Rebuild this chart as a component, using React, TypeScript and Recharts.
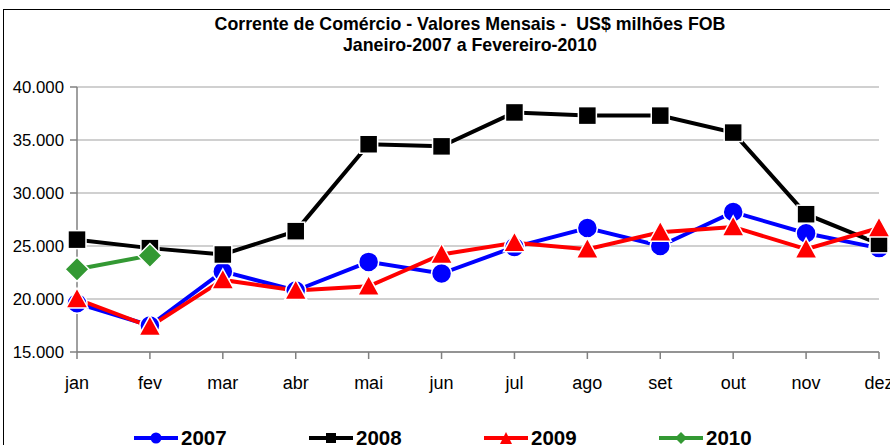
import React from 'react'
import { CartesianGrid, Line, LineChart, XAxis, YAxis } from 'recharts'

const months = ['jan', 'fev', 'mar', 'abr', 'mai', 'jun', 'jul', 'ago', 'set', 'out', 'nov', 'dez']
const y2007 = [19600, 17500, 22600, 20800, 23500, 22400, 24900, 26700, 25000, 28200, 26200, 24800]
const y2008 = [25600, 24800, 24200, 26400, 34600, 34400, 37600, 37300, 37300, 35700, 28000, 25200]
const y2009 = [20000, 17400, 21800, 20800, 21200, 24200, 25300, 24700, 26300, 26800, 24700, 26700]
const y2010 = [22800, 24100]
const yTicks = [15000, 20000, 25000, 30000, 35000, 40000]

const data = months.map((m, i) => ({
  month: m,
  s2007: y2007[i],
  s2008: y2008[i],
  s2009: y2009[i],
  s2010: i < y2010.length ? y2010[i] : null,
}))

const font = '"Liberation Sans", Arial, sans-serif'

const Circle = (props: any) => {
  const { cx, cy, index } = props
  if (cx == null || cy == null) return <g key={index} />
  return <circle key={index} cx={cx} cy={cy} r={10} fill="#0000ff" stroke="#fff" strokeWidth={1.5} />
}

const Square = (props: any) => {
  const { cx, cy, index } = props
  if (cx == null || cy == null) return <g key={index} />
  return <rect key={index} x={cx - 9} y={cy - 9} width={18} height={18} fill="#000" stroke="#fff" strokeWidth={1.5} />
}

const Triangle = (props: any) => {
  const { cx, cy, index } = props
  if (cx == null || cy == null) return <g key={index} />
  return (
    <polygon
      key={index}
      points={`${cx},${cy - 11} ${cx + 11},${cy + 9} ${cx - 11},${cy + 9}`}
      fill="#ff0000"
      stroke="#fff"
      strokeWidth={1.5}
    />
  )
}

const Diamond = (props: any) => {
  const { cx, cy, index } = props
  if (cx == null || cy == null || props.value == null) return <g key={index} />
  return (
    <polygon
      key={index}
      points={`${cx},${cy - 12} ${cx + 12},${cy} ${cx},${cy + 12} ${cx - 12},${cy}`}
      fill="#339933"
      stroke="#fff"
      strokeWidth={1.5}
    />
  )
}

const series = [
  { key: 's2007', name: '2007', color: '#0000ff', dot: Circle },
  { key: 's2008', name: '2008', color: '#000000', dot: Square },
  { key: 's2009', name: '2009', color: '#ff0000', dot: Triangle },
  { key: 's2010', name: '2010', color: '#339933', dot: Diamond },
]

const legendIcon = (name: string, color: string) => {
  let shape
  if (name === '2007') shape = <circle cx={22} cy={8} r={5.5} fill={color} />
  else if (name === '2008') shape = <rect x={17} y={3} width={10} height={10} fill={color} />
  else if (name === '2009') shape = <polygon points="22,2 28,14 16,14" fill={color} />
  else shape = <polygon points="22,2 28,8 22,14 16,8" fill={color} />
  return (
    <svg width={44} height={16} style={{ display: 'block' }}>
      <line x1={0} y1={8} x2={44} y2={8} stroke={color} strokeWidth={4} />
      {shape}
    </svg>
  )
}

export default function App() {
  return (
    <div
      style={{
        position: 'absolute',
        left: 0,
        top: 0,
        width: 890,
        height: 445,
        overflow: 'hidden',
        background: '#fff',
        fontFamily: font,
      }}
    >
      <div
        style={{
          position: 'absolute',
          left: 3,
          top: 9,
          width: 900,
          height: 460,
          borderLeft: '1.5px solid #000',
          borderTop: '1.5px solid #000',
        }}
      />
      <div
        style={{
          position: 'absolute',
          left: 0,
          top: 14,
          width: 940,
          textAlign: 'center',
          fontWeight: 'bold',
          fontSize: 17.8,
          lineHeight: '21px',
          color: '#000',
        }}
      >
        <div>Corrente de Comércio - Valores Mensais -&nbsp; US$ milhões FOB</div>
        <div>Janeiro-2007 a Fevereiro-2010</div>
      </div>
      <div style={{ position: 'absolute', left: 0, top: 0 }}>
        <LineChart width={890} height={445} data={data} margin={{ top: 87, right: 11, bottom: 63, left: 0 }}>
          <CartesianGrid vertical={false} stroke="#c0c0c0" strokeWidth={1.5} />
          <XAxis
            dataKey="month"
            height={30}
            interval={0}
            padding={{ left: 0, right: 0 }}
            stroke="#808080"
            strokeWidth={1.5}
            tickSize={7}
            tickMargin={17}
            tick={{ fill: '#000', fontSize: 18, fontFamily: font }}
          />
          <YAxis
            width={77}
            domain={[15000, 40000]}
            ticks={yTicks}
            interval={0}
            stroke="#808080"
            strokeWidth={1.5}
            tickSize={7}
            tickMargin={6}
            tick={{ fill: '#000', fontSize: 16.8, fontFamily: font }}
            tickFormatter={(v: number) => (v / 1000).toFixed(3)}
          />
          {series.map((s) => (
            <Line
              key={s.key}
              dataKey={s.key}
              name={s.name}
              stroke={s.color}
              strokeWidth={4}
              dot={s.dot}
              activeDot={false}
              connectNulls={false}
              isAnimationActive={false}
            />
          ))}
        </LineChart>
      </div>
      {series.map((s, i) => (
        <div
          key={s.key}
          style={{
            position: 'absolute',
            left: 134 + i * 175,
            top: 428,
            height: 20,
            display: 'flex',
            alignItems: 'center',
            gap: 3,
          }}
        >
          {legendIcon(s.name, s.color)}
          <span style={{ fontWeight: 'bold', fontSize: 20.5, lineHeight: '20px', color: '#000' }}>{s.name}</span>
        </div>
      ))}
    </div>
  )
}
